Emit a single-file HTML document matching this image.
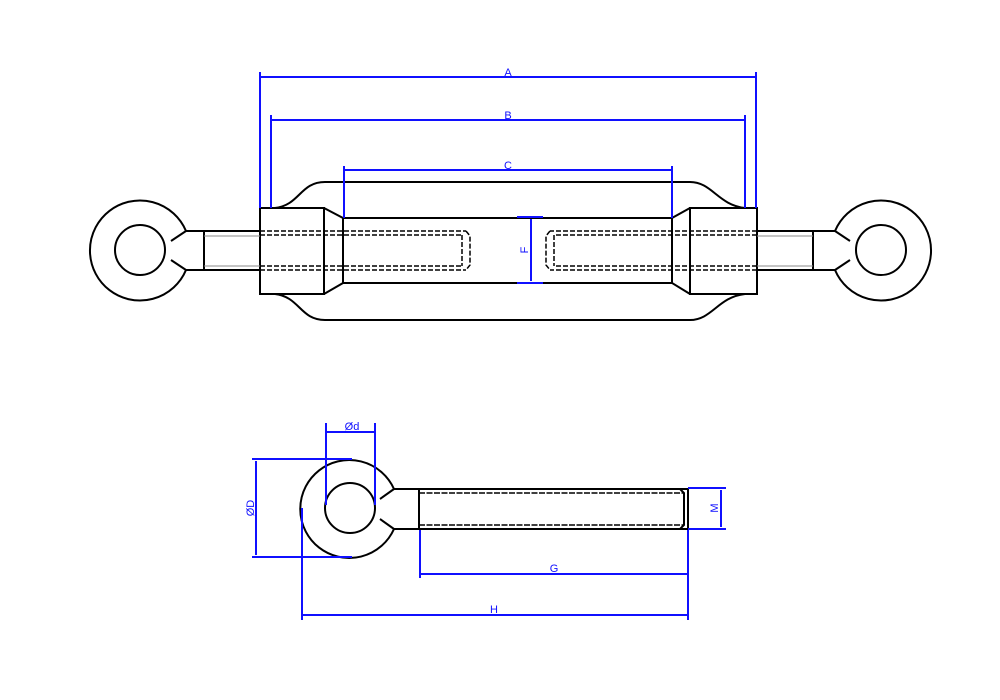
<!DOCTYPE html>
<html><head><meta charset="utf-8"><style>
html,body{margin:0;padding:0;background:#fff;width:1000px;height:700px;overflow:hidden}
svg{display:block}
text{font-family:"Liberation Sans",sans-serif;font-size:11px;fill:#1010ff}
</style></head><body>
<svg width="1000" height="700" viewBox="0 0 1000 700">
<g fill="none" stroke="#000" stroke-width="2">
<!-- left eye -->
<path d="M186,231 A50,50 0 1 0 186,270"/>
<path d="M186,231 L171,241 M186,270 L171,260"/>
<circle cx="140" cy="250" r="25"/>
<path d="M186,231 H260 M186,270 H260 M204,231 V270"/>
<!-- right eye -->
<path d="M835,231 A50,50 0 1 1 835,270"/>
<path d="M835,231 L850,241 M835,270 L850,260"/>
<circle cx="881" cy="250" r="25"/>
<path d="M757,231 H835 M757,270 H835 M813,231 V270"/>
<!-- blocks -->
<rect x="260" y="208" width="64" height="86"/>
<path d="M324,208 L343,218 V283 L324,294"/>
<rect x="690" y="208" width="67" height="86"/>
<path d="M690,208 L672,218 V283 L690,294"/>
<path d="M343,218 H672 M343,283 H672"/>
<!-- frame -->
<path d="M275,208 C300,205 300,182 325,182 H690 C712,182 718,205 745,208"/>
<path d="M275,294 C300,297 300,320 325,320 H690 C712,320 718,297 745,294"/>
</g>
<g fill="none" stroke="#888" stroke-width="1">
<path d="M204,236 H260 M204,266 H260 M757,236 H813 M757,266 H813"/>
</g>
<g fill="none" stroke="#000" stroke-width="1.5" stroke-dasharray="5,2">
<path d="M260,231 H466 M260,235 H462 M260,266 H462 M260,270 H466"/>
<path d="M466,231 L470,236 V265 L466,270 M462,235 V266"/>
<path d="M757,231 H550 M757,235 H554 M757,266 H554 M757,270 H550"/>
<path d="M550,231 L546,236 V265 L550,270 M554,235 V266"/>
</g>
<!-- bottom eye bolt -->
<g fill="none" stroke="#000" stroke-width="2">
<path d="M394,489 A49,49 0 1 0 394,529"/>
<path d="M394,489 L380,499 M394,529 L380,519"/>
<circle cx="350" cy="508" r="25"/>
<path d="M394,489 H688 M394,529 H688 M419,489 V529 M688,489 V529 M680,489 L684,493 V525 L680,529"/>
</g>
<g fill="none" stroke="#000" stroke-width="1.5" stroke-dasharray="6,1.5">
<path d="M419,493 H684 M419,525 H684"/>
</g>
<!-- dimensions -->
<g fill="none" stroke="#1010ff" stroke-width="2">
<path d="M260,72 V208 M756,72 V208 M260,77 H756"/>
<path d="M271,115 V208 M745,115 V208 M271,120 H745"/>
<path d="M344,166 V218 M672,166 V218 M344,170 H672"/>
<path d="M517,217 H543 M517,283 H543 M531,219 V281"/>
<path d="M326,423 V505 M375,423 V505 M326,432 H375"/>
<path d="M252,459 H352 M252,557 H352 M256,461 V555"/>
<path d="M688,488 H726 M688,529 H726 M721,490 V527"/>
<path d="M420,530 V578 M688,530 V578 M420,574 H688"/>
<path d="M302,508 V620 M688,578 V620 M302,615 H688"/>
</g>
<text x="508" y="76" text-anchor="middle">A</text>
<text x="508" y="119" text-anchor="middle">B</text>
<text x="508" y="169" text-anchor="middle">C</text>
<text x="352" y="430" text-anchor="middle">Ød</text>
<text x="554" y="572" text-anchor="middle">G</text>
<text x="494" y="613" text-anchor="middle">H</text>
<text transform="translate(528,250) rotate(-90)" text-anchor="middle">F</text>
<text transform="translate(254,508) rotate(-90)" text-anchor="middle">ØD</text>
<text transform="translate(718,508) rotate(-90)" text-anchor="middle">M</text>
</svg>
</body></html>
